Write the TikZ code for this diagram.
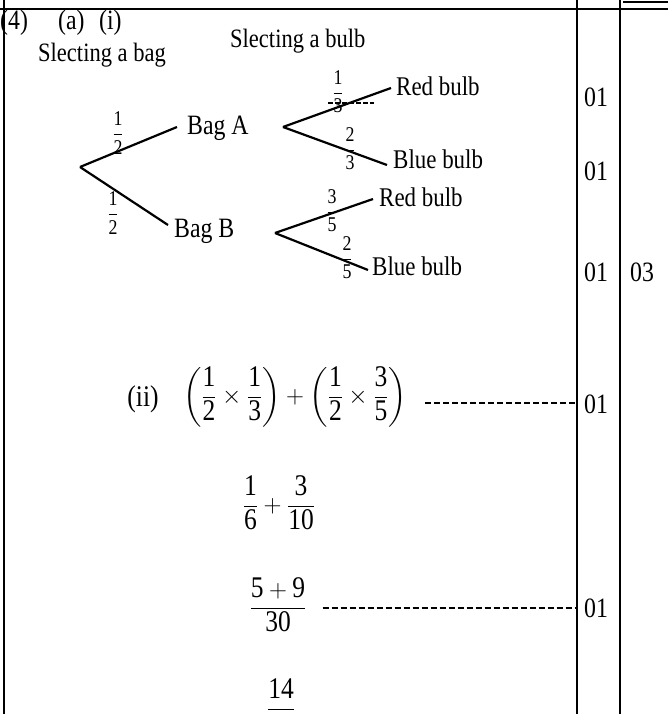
\documentclass[tikz,border=0pt]{standalone}
\usepackage{amsmath}
\usepackage{fontspec}
\setmainfont{Liberation Serif}[FakeStretch=0.85]
\usetikzlibrary{positioning}

% fraction with text-font digits
\newcommand{\fr}[2]{\dfrac{\text{#1}}{\text{#2}}}

\begin{document}
\begin{tikzpicture}[
  x=1pt, y=-1pt,
  rule/.style={line width=2.4pt, draw=black},
  branch/.style={line width=2.2pt, draw=black},
  leader/.style={line width=1.3pt, dash pattern=on 6pt off 3pt},
  head/.style={font=\fontsize{28}{30}\selectfont, inner sep=0pt, anchor=base west},
  title/.style={font=\fontsize{26.5}{28}\selectfont, inner sep=0pt, anchor=base west},
  lbl/.style={font=\fontsize{27}{29}\selectfont, inner sep=0pt, anchor=base west},
  prob/.style={font=\fontsize{21}{23}\selectfont, inner sep=0pt},
  work/.style={font=\fontsize{30}{32}\selectfont, inner sep=0pt},
  score/.style={font=\fontsize{28}{30}\selectfont, inner sep=1pt}
]
\useasboundingbox (0,0) rectangle (668,714);

% table rules
\coordinate (colA) at (577,0);
\coordinate (colB) at (620,0);
\draw[rule] (4,0) -- (4,714);
\draw[rule] (colA) -- (577,714);
\draw[rule] (colB) -- (620,714);
\draw[rule] (0,9) -- (668,9);
\draw[line width=1.6pt] (623,2) -- (668,2);

% headings
\node[head] (qno) at (0,30) {(4)};
\node[head] (parta) at (58,30) {(a)};
\node[head] (parti) at (99,30) {(i)};
\node[title] (selbag) at (38,62) {Slecting a bag};
\node[title] (selbulb) at (230,48) {Slecting a bulb};

% tree
\coordinate (root) at (80,167);
\node[lbl, font=\fontsize{28}{30}\selectfont] (bagA) at (187,135) {Bag A};
\node[lbl, font=\fontsize{28}{30}\selectfont] (bagB) at (174,237) {Bag B};
\coordinate (forkA) at (283,127);
\coordinate (forkB) at (275,233);
\node[lbl] (redA) at (396,96) {Red bulb};
\node[lbl] (blueA) at (393,168) {Blue bulb};
\node[lbl] (redB) at (379,206) {Red bulb};
\node[lbl] (blueB) at (372,275) {Blue bulb};

\draw[branch] (root) -- ([shift={(-10pt,8pt)}]bagA.base west);
\draw[branch] (root) -- ([shift={(-6pt,12pt)}]bagB.base west);
\draw[branch] (forkA) -- ([shift={(-5pt,8pt)}]redA.base west);
\draw[branch] (forkA) -- ([shift={(-6pt,3pt)}]blueA.base west);
\draw[branch] (forkB) -- ([shift={(-6pt,7pt)}]redB.base west);
\draw[branch] (forkB) -- ([shift={(-4pt,5pt)}]blueB.base west);

\node[prob] (pA) at (118,133) {$\fr{1}{2}$};
\node[prob] (pB) at (113,213) {$\fr{1}{2}$};
\node[prob] (pAr) at (338,92) {$\fr{1}{3}$};
\draw[line width=1.2pt, dash pattern=on 5pt off 2pt] (328,103) -- (374,103);
\node[prob] (pAb) at (350,149) {$\fr{2}{3}$};
\node[prob] (pBr) at (332,211) {$\fr{3}{5}$};
\node[prob] (pBb) at (347,258) {$\fr{2}{5}$};

% part (ii)
\node[work] (partii) at (143,399) {(ii)};
\node[work] (sumii) at (295,397) {$\left(\fr{1}{2}\times\fr{1}{3}\right)+\left(\fr{1}{2}\times\fr{3}{5}\right)$};
\node[work] (stepone) at (279,503) {$\fr{1}{6}+\fr{3}{10}$};
\node[work] (steptwo) at (278,605) {$\dfrac{\text{5}+\text{9}}{\text{30}}$};
\node[work] (stepthree) at (281,706) {$\dfrac{\text{14}}{\phantom{\text{30}}}$};

\draw[leader] ([xshift=18pt,yshift=-6pt]sumii.east) -- ([yshift=-6pt]sumii.east -| colA);
\draw[leader] ([xshift=16pt,yshift=-3pt]steptwo.east) -- ([yshift=-3pt]steptwo.east -| colA);

% marks
\node[score] (mk1) at (596,97) {01};
\node[score] (mk2) at (596,171) {01};
\node[score] (mk3) at (596,272) {01};
\node[score] (mk4) at (596,404) {01};
\node[score] (mk5) at (596,608) {01};
\node[score] (total) at (642,272) {03};
\end{tikzpicture}
\end{document}
